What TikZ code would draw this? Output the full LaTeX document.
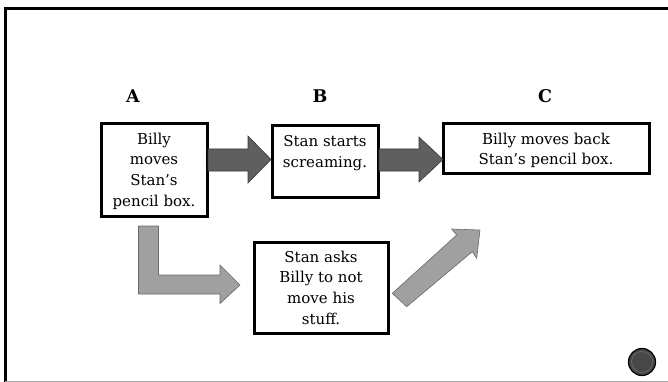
\documentclass[tikz,border=0pt]{standalone}
\usepackage{fontspec}
\setmainfont{DejaVu Serif}
\tikzset{
  x=1pt, y=-1pt,
  evbox/.style={draw=black, line width=3pt, fill=white, inner sep=0pt},
  evtext/.style={anchor=north, align=center, inner sep=0pt, font=\fontsize{15}{20.8}\selectfont},
  letter/.style={font=\fontsize{17.5}{19}\selectfont\bfseries},
  darkarrow/.style={fill=arrowdark, draw=arrowdarkline, line width=0.6pt},
  lightarrow/.style={fill=arrowlight, draw=arrowlightline, line width=0.6pt},
}
\definecolor{arrowdark}{HTML}{5F5F5F}
\definecolor{arrowdarkline}{HTML}{3A3A3A}
\definecolor{arrowlight}{HTML}{A0A0A0}
\definecolor{arrowlightline}{HTML}{6A6A6A}
\begin{document}
\begin{tikzpicture}
\useasboundingbox (0,0) rectangle (668,382);
% frame
\draw[line width=3pt, black] (5,382) -- (5,9) -- (672,9);
\draw[line width=1pt, gray!70] (5,381.5) -- (668,381.5);

% letters
\node[letter] (la) at (133,96) {A};
\node[letter] (lb) at (320,96) {B};
\node[letter] (lc) at (545,96) {C};

% boxes
\node[evbox, minimum width=106, minimum height=92] (A) at (154,170) {};
\node[evtext] (At) at ([yshift=-10]A.north) {Billy\\moves\\Stan’s\\pencil box.};
\node[evbox, minimum width=106, minimum height=71] (B) at (325,161.5) {};
\node[evtext] (Bt) at ([yshift=-11]B.north) {Stan starts\\screaming.};
\node[evbox, minimum width=206, minimum height=49] (C) at (546,148.5) {};
\node[evtext] (Ct) at ([yshift=-10]C.north) {Billy moves back\\Stan’s pencil box.};
\node[evbox, minimum width=134, minimum height=91] (D) at (321,287.5) {};
\node[evtext] (Dt) at ([yshift=-10]D.north) {Stan asks\\Billy to not\\move his\\stuff.};

% dark arrows
\draw[darkarrow] (208,149) -- (248,149) -- (248,136) -- (271,159.5) -- (248,183) -- (248,171) -- (208,171) -- cycle;
\draw[darkarrow] (379,149) -- (419,149) -- (419,137) -- (443,159.5) -- (419,182) -- (419,171) -- (379,171) -- cycle;

% bent arrow
\draw[lightarrow] (138.5,226) -- (158.5,226) -- (158.5,275) -- (220,275) -- (220,265) -- (240,285) -- (220,303.5) -- (220,294) -- (138.5,294) -- cycle;

% diagonal arrow
\draw[lightarrow] (392.3,293.3) -- (456.7,235) -- (451.7,229) -- (480,230) -- (476.7,258.3) -- (472.3,251.7) -- (406.7,306.7) -- cycle;

% button
\node[circle, minimum size=27, inner sep=0pt, fill=black!72, draw=black, line width=1.2pt] (btn) at (642,362) {};
\draw[black!55, line width=0.5pt] (btn.center) circle (10.5);
\end{tikzpicture}
\end{document}
